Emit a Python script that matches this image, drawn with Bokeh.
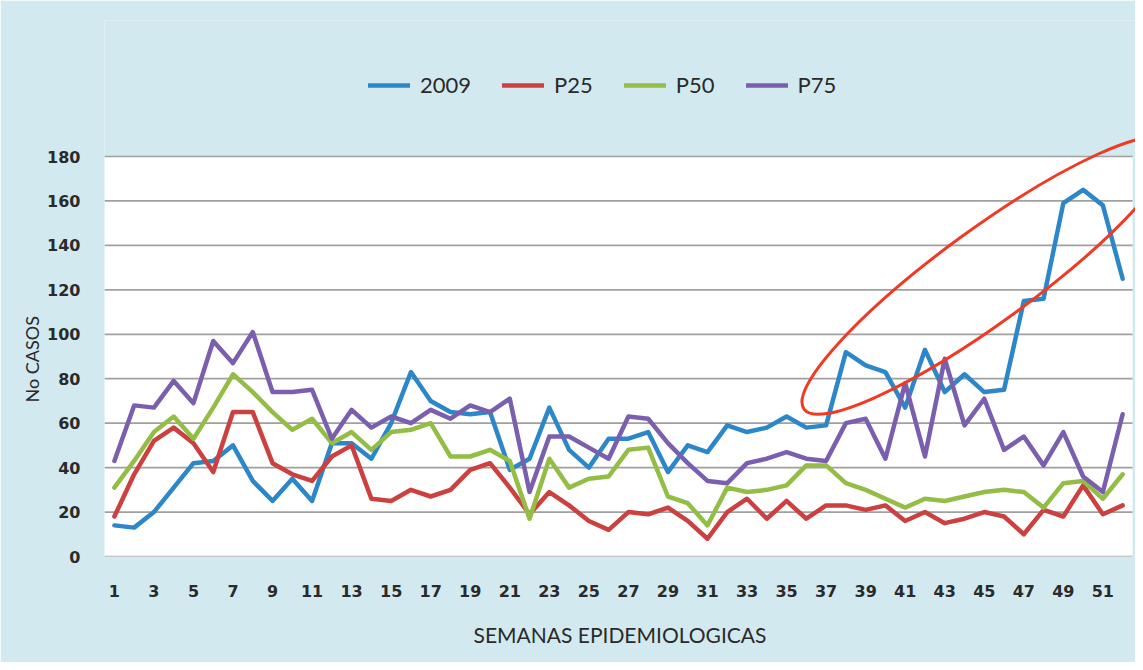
from bokeh.plotting import figure
from bokeh.models import Range1d, FixedTicker, BoxAnnotation, Legend, LegendItem, Title
from bokeh.embed import file_html
from bokeh.resources import INLINE

weeks = list(range(1, 53))
s2009 = [14, 13, 20, 31, 42, 43, 50, 34, 25, 35, 25, 51, 51, 44, 60, 83, 70, 65, 64, 65,
         39, 44, 67, 48, 40, 53, 53, 56, 38, 50, 47, 59, 56, 58, 63, 58, 59, 92, 86, 83,
         67, 93, 74, 82, 74, 75, 115, 116, 159, 165, 158, 125]
p25 = [18, 37, 52, 58, 51, 38, 65, 65, 42, 37, 34, 45, 50, 26, 25, 30, 27, 30, 39, 42,
       31, 19, 29, 23, 16, 12, 20, 19, 22, 16, 8, 20, 26, 17, 25, 17, 23, 23, 21, 23,
       16, 20, 15, 17, 20, 18, 10, 21, 18, 32, 19, 23]
p50 = [31, 43, 56, 63, 53, 67, 82, 74, 65, 57, 62, 51, 56, 48, 56, 57, 60, 45, 45, 48,
       43, 17, 44, 31, 35, 36, 48, 49, 27, 24, 14, 31, 29, 30, 32, 41, 41, 33, 30, 26,
       22, 26, 25, 27, 29, 30, 29, 22, 33, 34, 26, 37]
p75 = [43, 68, 67, 79, 69, 97, 87, 101, 74, 74, 75, 53, 66, 58, 63, 60, 66, 62, 68, 65,
       71, 29, 54, 54, 49, 44, 63, 62, 51, 42, 34, 33, 42, 44, 47, 44, 43, 60, 62, 44,
       78, 45, 89, 59, 71, 48, 54, 41, 56, 36, 29, 64]
series_names = ["2009", "P25", "P50", "P75"]
y_ticks = [0, 20, 40, 60, 80, 100, 120, 140, 160, 180]
x_ticks = list(range(1, 52, 2))

colors = ["#2b87c8", "#cc4040", "#93bd44", "#7a5fae"]
BG = "#d3e9f0"
FONT = "Lato"
TICK_FONT = "DejaVu Sans"

p = figure(width=1135, height=662, output_backend="svg", toolbar_location=None,
           x_range=Range1d(0.5, 52.65), y_range=Range1d(0, 241.2),
           min_border_left=104, min_border_right=0, min_border_top=20, min_border_bottom=106)
p.background_fill_color = BG
p.border_fill_color = BG
p.outline_line_color = None
p.xgrid.visible = False
p.ygrid.visible = False

# white plot area
p.add_layout(BoxAnnotation(left=0.5, right=52.5, bottom=0, top=180,
                           fill_color="white", fill_alpha=1.0, line_color=None, level="underlay"))
# gridlines limited to plot area
p.segment(x0=[0.5] * len(y_ticks), x1=[52.5] * len(y_ticks), y0=y_ticks, y1=y_ticks,
          line_color="#a0a0a0", line_width=1.7)

renderers = []
for name, vals, c in zip(series_names, [s2009, p25, p50, p75], colors):
    r = p.line(weeks, vals, line_color=c, line_width=4.5, line_join="round", line_cap="round")
    renderers.append((name, r))

# hand-drawn highlight ellipse
p.ellipse(x=[45.16], y=[126.5], width=454, height=93, width_units="screen", height_units="screen",
          angle=0.63, fill_color=None, line_color="#f03a24", line_width=3)

legend = Legend(items=[LegendItem(label=n, renderers=[r]) for n, r in renderers],
                orientation="horizontal", location=(264, 458))
legend.background_fill_alpha = 0
legend.border_line_color = None
legend.label_text_font = FONT
legend.label_text_font_size = "22px"
legend.label_text_color = "#2a2a2a"
legend.glyph_width = 42
legend.label_standoff = 10
legend.spacing = 31
p.add_layout(legend)

p.xaxis.ticker = FixedTicker(ticks=x_ticks)
p.yaxis.ticker = FixedTicker(ticks=y_ticks)
for ax in (p.xaxis[0], p.yaxis[0]):
    ax.axis_line_color = None
    ax.major_tick_line_color = None
    ax.minor_tick_line_color = None
    ax.major_tick_out = 0
    ax.major_tick_in = 0
    ax.major_label_text_font = TICK_FONT
    ax.major_label_text_font_size = "16px"
    ax.major_label_text_font_style = "bold"
    ax.major_label_text_color = "#2a2a2a"
    ax.axis_label_text_font = FONT
    ax.axis_label_text_font_size = "21px"
    ax.axis_label_text_font_style = "normal"
    ax.axis_label_text_color = "#2a2a2a"

p.xaxis.axis_label = "SEMANAS EPIDEMIOLOGICAS"
p.xaxis.major_label_standoff = 28
p.xaxis.axis_label_standoff = 22
p.yaxis.major_label_standoff = 24

# y axis title, placed level with the white plotting area
p.add_layout(Title(text="No CASOS", align="left", offset=154, standoff=4,
                   text_font=FONT, text_font_size="18px", text_font_style="normal",
                   text_color="#2a2a2a"), "left")

open("out.html", "w").write(file_html(p, INLINE))
